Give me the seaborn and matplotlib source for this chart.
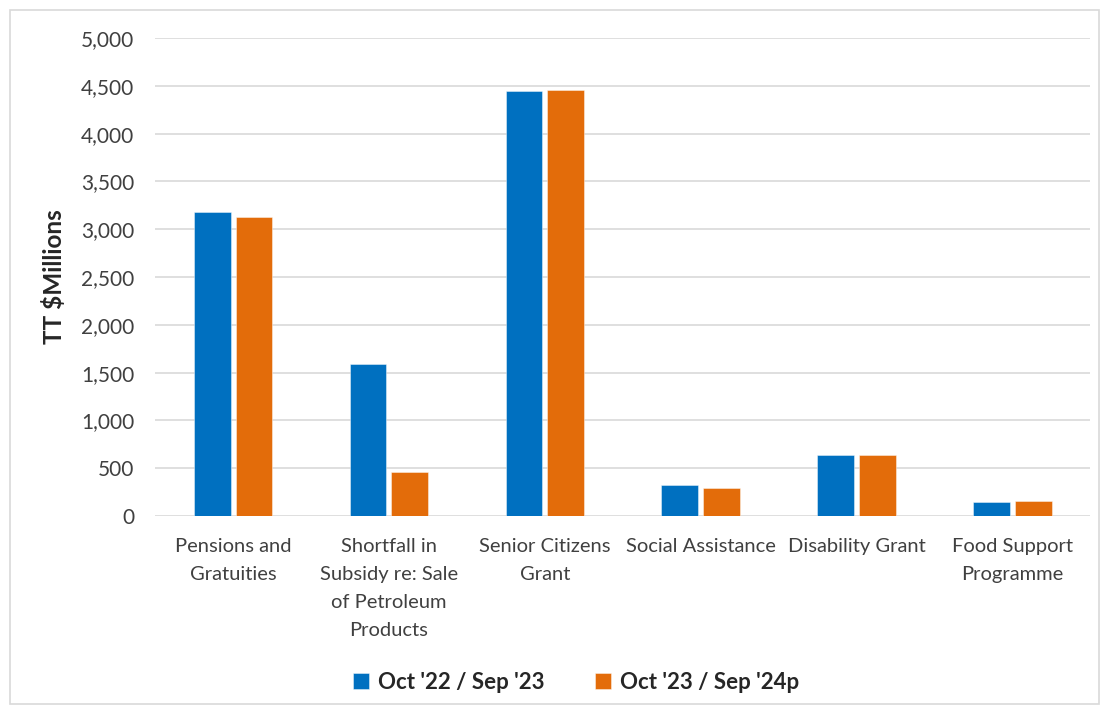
import matplotlib
matplotlib.use("Agg")
import matplotlib.pyplot as plt
from matplotlib.patches import Rectangle
from matplotlib.ticker import FuncFormatter, MultipleLocator
import pandas as pd
import seaborn as sns

categories = [
    "Pensions and\nGratuities",
    "Shortfall in\nSubsidy re: Sale\nof Petroleum\nProducts",
    "Senior Citizens\nGrant",
    "Social Assistance",
    "Disability Grant",
    "Food Support\nProgramme",
]
series_names = ["Oct '22 / Sep '23", "Oct '23 / Sep '24p"]
values_2223 = [3180, 1595, 4450, 325, 643, 151]
values_2324 = [3125, 465, 4460, 298, 633, 154]
colors = ["#0070C0", "#E36C0A"]

df = pd.DataFrame({
    "category": categories * 2,
    "period": [series_names[0]] * len(categories) + [series_names[1]] * len(categories),
    "value": values_2223 + values_2324,
})

sns.set_theme(style="white")
plt.rcParams["font.family"] = ["Lato", "DejaVu Sans"]

fig = plt.figure(figsize=(11.08, 7.13), dpi=100)
ax = fig.add_axes([0.140, 0.2763, 0.844, 0.6704])

sns.barplot(
    data=df, x="category", y="value", hue="period",
    order=categories, hue_order=series_names,
    palette=colors, width=0.535, gap=0.12,
    edgecolor=(1, 1, 1, 0.5), linewidth=0.6,
    saturation=1, ax=ax, legend=True,
)

ax.set_ylim(0, 5000)
ax.yaxis.set_major_locator(MultipleLocator(500))
ax.yaxis.set_major_formatter(FuncFormatter(lambda v, _: f"{int(v):,}"))
ax.grid(axis="y", color="#D9D9D9", linewidth=1.2)
ax.set_axisbelow(True)
for s in ax.spines.values():
    s.set_visible(False)
ax.tick_params(axis="y", length=0, pad=15, labelsize=15, labelcolor="#404040")
ax.tick_params(axis="x", length=0, pad=16, labelsize=14.5, labelcolor="#404040")
for lbl in ax.get_xticklabels():
    lbl.set_linespacing(1.78)
ax.set_xlabel("")
ax.set_ylabel("TT $Millions", fontsize=17.5, fontweight="bold", color="#262626", labelpad=11)

handles, labels = ax.get_legend_handles_labels()
ax.legend_.remove()
leg = fig.legend(
    handles, labels, loc="center", bbox_to_anchor=(0.52, 0.043), ncol=2,
    frameon=False, handlelength=0.7, handleheight=0.7, handletextpad=0.4,
    columnspacing=2.3, prop={"weight": "bold", "size": 16},
)
for t in leg.get_texts():
    t.set_color("#262626")

fig.patches.append(Rectangle(
    (10 / 1108, 9 / 713), 1089 / 1108, 694 / 713, transform=fig.transFigure,
    fill=False, edgecolor="#D9D9D9", linewidth=1.2,
))

fig.savefig("out.png", dpi=100)
